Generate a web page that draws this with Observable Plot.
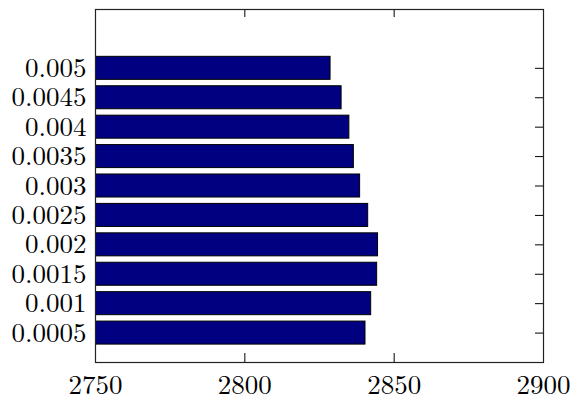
<!DOCTYPE html>
<html>
<head>
<meta charset="utf-8">
<script src="https://cdn.jsdelivr.net/npm/d3@7"></script>
<script src="https://cdn.jsdelivr.net/npm/@observablehq/plot@0.6"></script>
<style>
  html, body { margin: 0; padding: 0; background: #fff; }
</style>
</head>
<body>
<div id="chart"></div>
<script>
const categories = [0.0005, 0.001, 0.0015, 0.002, 0.0025, 0.003, 0.0035, 0.004, 0.0045, 0.005];
const categoryLabels = ["0.0005", "0.001", "0.0015", "0.002", "0.0025", "0.003", "0.0035", "0.004", "0.0045", "0.005"];
const values = [2840.4, 2842.3, 2844.3, 2844.6, 2841.3, 2838.6, 2836.5, 2835.0, 2832.4, 2828.7];
const xTicks = [2750, 2800, 2850, 2900];
const xDomain = [2750, 2900];
const yDomain = [0, 0.006];

const data = categories.map((c, i) => ({c, label: categoryLabels[i], v: values[i]}));
const half = 0.00025;
const font = "'Latin Modern Roman', 'Liberation Serif', serif";
const fs = 27;

const chart = Plot.plot({
  width: 571,
  height: 404,
  marginLeft: 95,
  marginRight: 28,
  marginTop: 9,
  marginBottom: 42,
  style: {fontFamily: font, fontSize: fs + "px", color: "black", background: "white", overflow: "visible"},
  x: {domain: xDomain, axis: null},
  y: {domain: yDomain, axis: null},
  marks: [
    Plot.rectX(data, {
      x1: xDomain[0], x2: "v",
      y1: d => d.c - half, y2: d => d.c + half,
      insetTop: 3.2, insetBottom: 3.2,
      fill: "#000080", stroke: "black", strokeWidth: 1,
      clip: true
    }),
    Plot.axisX({anchor: "bottom", ticks: xTicks, tickSize: 0, tickPadding: 12, fontSize: fs, label: null, tickFormat: d => String(d)}),
    Plot.axisX({anchor: "bottom", ticks: xTicks.slice(1, -1), tickSize: -9, tickFormat: () => "", label: null, stroke: "black"}),
    Plot.axisX({anchor: "top", ticks: xTicks.slice(1, -1), tickSize: -7, tickFormat: () => "", label: null, stroke: "black"}),
    Plot.axisY({anchor: "left", ticks: categories, tickSize: 0, tickPadding: 9, fontSize: fs, label: null, tickFormat: (d, i) => categoryLabels[i]}),
    Plot.axisY({anchor: "right", ticks: categories, tickSize: -9, tickFormat: () => "", label: null, stroke: "black"}),
    Plot.frame({stroke: "#222", strokeWidth: 1.2})
  ]
});
document.getElementById("chart").appendChild(chart);
</script>
</body>
</html>
